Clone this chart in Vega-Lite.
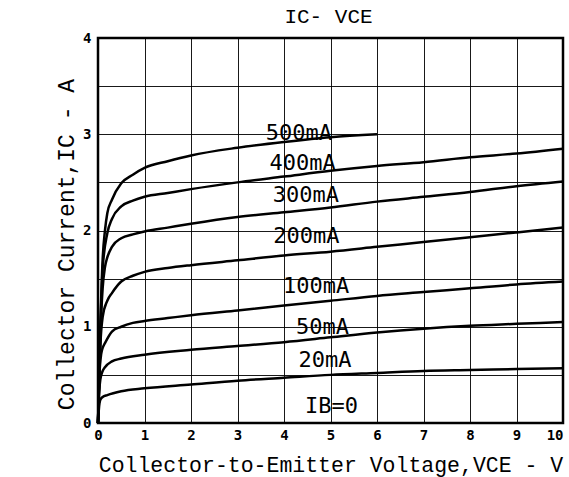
{
  "$schema": "https://vega.github.io/schema/vega-lite/v6.json",
  "width": 465,
  "height": 385,
  "autosize": {"type": "none"},
  "padding": {"left": 98, "top": 38, "right": 6, "bottom": 54},
  "background": "white",
  "config": {"view": {"stroke": "#000", "strokeWidth": 2.5}, "font": "Liberation Mono"},
  "title": {"text": "IC- VCE", "fontSize": 21, "font": "Liberation Mono", "fontWeight": "normal", "offset": 4, "dx": -2, "frame": "group", "anchor": "middle", "color": "#000"},
  "datasets": {
    "curves": [
      {"ib": "500mA", "v": 0, "i": 0}, {"ib": "500mA", "v": 0.05, "i": 1.0}, {"ib": "500mA", "v": 0.1, "i": 1.7}, {"ib": "500mA", "v": 0.15, "i": 2.0}, {"ib": "500mA", "v": 0.2, "i": 2.18}, {"ib": "500mA", "v": 0.3, "i": 2.32}, {"ib": "500mA", "v": 0.5, "i": 2.49}, {"ib": "500mA", "v": 0.75, "i": 2.58}, {"ib": "500mA", "v": 1, "i": 2.65}, {"ib": "500mA", "v": 1.5, "i": 2.72}, {"ib": "500mA", "v": 2, "i": 2.78}, {"ib": "500mA", "v": 3, "i": 2.86}, {"ib": "500mA", "v": 4, "i": 2.92}, {"ib": "500mA", "v": 5, "i": 2.97}, {"ib": "500mA", "v": 6, "i": 3.0},
      {"ib": "400mA", "v": 0, "i": 0}, {"ib": "400mA", "v": 0.05, "i": 0.95}, {"ib": "400mA", "v": 0.1, "i": 1.6}, {"ib": "400mA", "v": 0.2, "i": 1.97}, {"ib": "400mA", "v": 0.3, "i": 2.12}, {"ib": "400mA", "v": 0.5, "i": 2.25}, {"ib": "400mA", "v": 0.75, "i": 2.31}, {"ib": "400mA", "v": 1, "i": 2.35}, {"ib": "400mA", "v": 1.5, "i": 2.39}, {"ib": "400mA", "v": 2, "i": 2.43}, {"ib": "400mA", "v": 3, "i": 2.5}, {"ib": "400mA", "v": 4, "i": 2.56}, {"ib": "400mA", "v": 5, "i": 2.62}, {"ib": "400mA", "v": 6, "i": 2.67}, {"ib": "400mA", "v": 7, "i": 2.71}, {"ib": "400mA", "v": 8, "i": 2.76}, {"ib": "400mA", "v": 9, "i": 2.8}, {"ib": "400mA", "v": 10, "i": 2.85},
      {"ib": "300mA", "v": 0, "i": 0}, {"ib": "300mA", "v": 0.05, "i": 0.9}, {"ib": "300mA", "v": 0.1, "i": 1.4}, {"ib": "300mA", "v": 0.15, "i": 1.62}, {"ib": "300mA", "v": 0.2, "i": 1.72}, {"ib": "300mA", "v": 0.3, "i": 1.83}, {"ib": "300mA", "v": 0.5, "i": 1.92}, {"ib": "300mA", "v": 0.75, "i": 1.96}, {"ib": "300mA", "v": 1, "i": 1.99}, {"ib": "300mA", "v": 1.5, "i": 2.03}, {"ib": "300mA", "v": 2, "i": 2.07}, {"ib": "300mA", "v": 3, "i": 2.14}, {"ib": "300mA", "v": 4, "i": 2.19}, {"ib": "300mA", "v": 5, "i": 2.24}, {"ib": "300mA", "v": 6, "i": 2.3}, {"ib": "300mA", "v": 7, "i": 2.35}, {"ib": "300mA", "v": 8, "i": 2.4}, {"ib": "300mA", "v": 9, "i": 2.46}, {"ib": "300mA", "v": 10, "i": 2.51},
      {"ib": "200mA", "v": 0, "i": 0}, {"ib": "200mA", "v": 0.05, "i": 0.8}, {"ib": "200mA", "v": 0.1, "i": 1.1}, {"ib": "200mA", "v": 0.2, "i": 1.27}, {"ib": "200mA", "v": 0.3, "i": 1.35}, {"ib": "200mA", "v": 0.5, "i": 1.47}, {"ib": "200mA", "v": 0.75, "i": 1.53}, {"ib": "200mA", "v": 1, "i": 1.57}, {"ib": "200mA", "v": 1.5, "i": 1.61}, {"ib": "200mA", "v": 2, "i": 1.64}, {"ib": "200mA", "v": 3, "i": 1.69}, {"ib": "200mA", "v": 4, "i": 1.74}, {"ib": "200mA", "v": 5, "i": 1.78}, {"ib": "200mA", "v": 6, "i": 1.83}, {"ib": "200mA", "v": 7, "i": 1.88}, {"ib": "200mA", "v": 8, "i": 1.93}, {"ib": "200mA", "v": 9, "i": 1.98}, {"ib": "200mA", "v": 10, "i": 2.03},
      {"ib": "100mA", "v": 0, "i": 0}, {"ib": "100mA", "v": 0.03, "i": 0.5}, {"ib": "100mA", "v": 0.07, "i": 0.72}, {"ib": "100mA", "v": 0.1, "i": 0.78}, {"ib": "100mA", "v": 0.15, "i": 0.83}, {"ib": "100mA", "v": 0.3, "i": 0.95}, {"ib": "100mA", "v": 0.5, "i": 1.0}, {"ib": "100mA", "v": 0.75, "i": 1.04}, {"ib": "100mA", "v": 1, "i": 1.06}, {"ib": "100mA", "v": 1.5, "i": 1.09}, {"ib": "100mA", "v": 2, "i": 1.12}, {"ib": "100mA", "v": 3, "i": 1.17}, {"ib": "100mA", "v": 4, "i": 1.22}, {"ib": "100mA", "v": 5, "i": 1.27}, {"ib": "100mA", "v": 6, "i": 1.32}, {"ib": "100mA", "v": 7, "i": 1.36}, {"ib": "100mA", "v": 8, "i": 1.4}, {"ib": "100mA", "v": 9, "i": 1.44}, {"ib": "100mA", "v": 10, "i": 1.47},
      {"ib": "50mA", "v": 0, "i": 0}, {"ib": "50mA", "v": 0.03, "i": 0.35}, {"ib": "50mA", "v": 0.05, "i": 0.45}, {"ib": "50mA", "v": 0.1, "i": 0.54}, {"ib": "50mA", "v": 0.15, "i": 0.58}, {"ib": "50mA", "v": 0.3, "i": 0.64}, {"ib": "50mA", "v": 0.5, "i": 0.67}, {"ib": "50mA", "v": 1, "i": 0.71}, {"ib": "50mA", "v": 2, "i": 0.76}, {"ib": "50mA", "v": 3, "i": 0.8}, {"ib": "50mA", "v": 4, "i": 0.84}, {"ib": "50mA", "v": 5, "i": 0.89}, {"ib": "50mA", "v": 6, "i": 0.94}, {"ib": "50mA", "v": 7, "i": 0.98}, {"ib": "50mA", "v": 8, "i": 1.01}, {"ib": "50mA", "v": 9, "i": 1.03}, {"ib": "50mA", "v": 10, "i": 1.05},
      {"ib": "20mA", "v": 0, "i": 0}, {"ib": "20mA", "v": 0.02, "i": 0.15}, {"ib": "20mA", "v": 0.05, "i": 0.24}, {"ib": "20mA", "v": 0.1, "i": 0.27}, {"ib": "20mA", "v": 0.2, "i": 0.29}, {"ib": "20mA", "v": 0.5, "i": 0.33}, {"ib": "20mA", "v": 1, "i": 0.36}, {"ib": "20mA", "v": 2, "i": 0.4}, {"ib": "20mA", "v": 3, "i": 0.44}, {"ib": "20mA", "v": 4, "i": 0.47}, {"ib": "20mA", "v": 5, "i": 0.5}, {"ib": "20mA", "v": 6, "i": 0.52}, {"ib": "20mA", "v": 7, "i": 0.54}, {"ib": "20mA", "v": 8, "i": 0.55}, {"ib": "20mA", "v": 9, "i": 0.56}, {"ib": "20mA", "v": 10, "i": 0.57}
    ],
    "labels": [
      {"label": "500mA", "v": 4.32, "i": 2.94},
      {"label": "400mA", "v": 4.4, "i": 2.63},
      {"label": "300mA", "v": 4.47, "i": 2.3},
      {"label": "200mA", "v": 4.48, "i": 1.87},
      {"label": "100mA", "v": 4.69, "i": 1.35},
      {"label": "50mA", "v": 4.83, "i": 0.92},
      {"label": "20mA", "v": 4.88, "i": 0.585},
      {"label": "IB=0", "v": 5.02, "i": 0.1}
    ]
  },
  "layer": [
    {
      "data": {"name": "curves"},
      "mark": {"type": "line", "interpolate": "monotone", "color": "#000", "strokeWidth": 2.5},
      "encoding": {
        "x": {
          "field": "v", "type": "quantitative",
          "scale": {"domain": [0, 10], "nice": false, "zero": false},
          "axis": {
            "values": [0, 1, 2, 3, 4, 5, 6, 7, 8, 9, 10],
            "title": "Collector-to-Emitter Voltage,VCE - V",
            "titleFont": "Liberation Mono", "titleFontSize": 21.5, "titleFontWeight": "normal", "titleColor": "#000",
            "titleY": 42, "titleBaseline": "middle",
            "labelFont": "DejaVu Sans Mono", "labelFontWeight": "bold", "labelFontSize": 14, "labelColor": "#000",
            "labelPadding": 5, "labelFlush": false,
            "labelAlign": {"condition": {"test": "datum.value == 10", "value": "right"}, "value": "center"},
            "grid": true, "gridColor": "#000", "gridWidth": 1, "gridOpacity": 0.9,
            "ticks": false, "domain": false
          }
        },
        "y": {
          "field": "i", "type": "quantitative",
          "scale": {"domain": [0, 4], "nice": false},
          "axis": {
            "values": [0, 0.5, 1, 1.5, 2, 2.5, 3, 3.5, 4],
            "labelExpr": "datum.value % 1 == 0 ? format(datum.value, 'd') : ''",
            "title": "Collector Current,IC - A",
            "titleFont": "Liberation Mono", "titleFontSize": 23, "titleFontWeight": "normal", "titleColor": "#000",
            "titleX": -32, "titleY": 206, "titleBaseline": "middle", "titleAlign": "center", "titleAngle": -90,
            "labelFont": "DejaVu Sans Mono", "labelFontWeight": "bold", "labelFontSize": 14, "labelColor": "#000",
            "labelPadding": 7, "labelFlush": false,
            "grid": true, "gridColor": "#000", "gridWidth": 1, "gridOpacity": 0.9,
            "ticks": false, "domain": false
          }
        },
        "detail": {"field": "ib"}
      }
    },
    {
      "data": {"name": "labels"},
      "mark": {"type": "text", "font": "DejaVu Sans Mono", "fontSize": 22, "align": "center", "baseline": "alphabetic", "color": "#000"},
      "encoding": {
        "x": {"field": "v", "type": "quantitative"},
        "y": {"field": "i", "type": "quantitative"},
        "text": {"field": "label"}
      }
    }
  ]
}
